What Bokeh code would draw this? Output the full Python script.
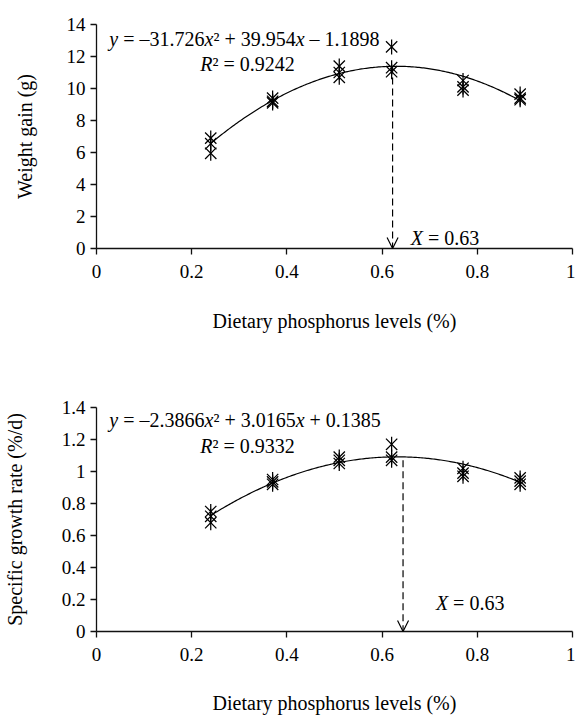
import numpy as np
from bokeh.plotting import figure
from bokeh.layouts import column
from bokeh.models import Label, Arrow, OpenHead, FixedTicker, Range1d
from bokeh.embed import file_html
from bokeh.resources import INLINE

# ---------------- data ----------------
levels = [0.24, 0.37, 0.51, 0.62, 0.77, 0.89]

wg_rep1 = [6.9, 9.4, 11.4, 12.6, 10.5, 9.65]
wg_rep2 = [6.55, 9.2, 11.0, 11.3, 10.1, 9.4]
wg_rep3 = [5.95, 9.1, 10.7, 11.05, 9.9, 9.3]

sgr_rep1 = [0.75, 0.95, 1.09, 1.17, 1.02, 0.96]
sgr_rep2 = [0.72, 0.935, 1.07, 1.09, 0.99, 0.94]
sgr_rep3 = [0.68, 0.92, 1.05, 1.07, 0.97, 0.92]

wg_coef = [-31.726, 39.954, -1.1898]
wg_r2 = "0.9242"
sgr_coef = [-2.3866, 3.0165, 0.1385]
sgr_r2 = "0.9332"
optimum_text = "0.63"

wg_arrow_x = 0.622
wg_arrow_top = 11.38
sgr_arrow_x = 0.644
sgr_arrow_top = 1.07

x_ticks = [0, 0.2, 0.4, 0.6, 0.8, 1.0]
x_tick_labels = ["0", "0.2", "0.4", "0.6", "0.8", "1"]
wg_ticks = [0, 2, 4, 6, 8, 10, 12, 14]
wg_tick_labels = ["0", "2", "4", "6", "8", "10", "12", "14"]
sgr_ticks = [0, 0.2, 0.4, 0.6, 0.8, 1.0, 1.2, 1.4]
sgr_tick_labels = ["0", "0.2", "0.4", "0.6", "0.8", "1", "1.2", "1.4"]

x_title = "Dietary phosphorus levels (%)"
wg_title = "Weight gain (g)"
sgr_title = "Specific growth rate (%/d)"

FONT = "Liberation Serif"
INK = "#111111"
NB = "\u00a0"

# Times / Liberation Serif advance widths (per 1000 em)
TW = {' ': 250, NB: 250, '.': 250, '=': 564, '+': 564, '\u2013': 500, '\u00b2': 300}
for d in "0123456789":
    TW[d] = 500
TWI = {'x': 444, 'y': 444, 'R': 611, 'X': 611}


def text_width(s, italic, size):
    tbl = TWI if italic else TW
    return sum(tbl.get(ch, 500) for ch in s) * size / 1000.0


def add_rich(p, x, y, pieces, size):
    off = 0.0
    for txt, it in pieces:
        txt = txt.replace(" ", NB)
        p.add_layout(Label(x=x, y=y, x_offset=off, text=txt,
                           text_font=FONT, text_font_size=f"{size}px",
                           text_font_style="italic" if it else "normal",
                           text_baseline="alphabetic", text_align="left",
                           text_color="black"))
        off += text_width(txt, it, size)


def eq_pieces(coef):
    a, b, c = coef
    sa = "\u2013" if a < 0 else ""
    sb = "\u2013" if b < 0 else "+"
    sc = "\u2013" if c < 0 else "+"
    return [("y", True), (f" = {sa}{abs(a)}", False), ("x", True), ("\u00b2", False),
            (f" {sb} {abs(b)}", False), ("x", True), (f" {sc} {abs(c)}", False)]


def make_fig(height, b_top, b_bottom, ymax, yticks, ylabels, ytitle, x_standoff, y_standoff):
    p = figure(width=575, height=height, x_range=Range1d(0, 1), y_range=Range1d(0, ymax),
               output_backend="svg", toolbar_location=None,
               min_border_left=96, min_border_right=3,
               min_border_top=b_top, min_border_bottom=b_bottom)
    p.outline_line_color = None
    p.grid.visible = False
    p.background_fill_color = "white"
    p.border_fill_color = "white"
    p.xaxis.ticker = FixedTicker(ticks=x_ticks)
    p.xaxis.major_label_overrides = {t: l for t, l in zip(x_ticks, x_tick_labels)}
    p.yaxis.ticker = FixedTicker(ticks=yticks)
    p.yaxis.major_label_overrides = {t: l for t, l in zip(yticks, ylabels)}
    for ax in (p.xaxis[0], p.yaxis[0]):
        ax.axis_line_color = INK
        ax.axis_line_width = 1.3
        ax.major_tick_line_color = INK
        ax.major_tick_line_width = 1.3
        ax.major_tick_in = 0
        ax.major_tick_out = 6
        ax.minor_tick_line_color = None
        ax.major_label_text_font = FONT
        ax.major_label_text_font_size = "19px"
        ax.major_label_text_color = "black"
        ax.axis_label_text_font = FONT
        ax.axis_label_text_font_size = "20px"
        ax.axis_label_text_font_style = "normal"
        ax.axis_label_text_color = "black"
    p.xaxis.axis_label = x_title
    p.xaxis.major_label_standoff = 10
    p.xaxis.axis_label_standoff = x_standoff
    p.yaxis.axis_label = ytitle
    p.yaxis.major_label_standoff = 5
    p.yaxis.axis_label_standoff = y_standoff
    return p


def draw_series(p, reps, coef):
    xs = np.linspace(levels[0], levels[-1], 200)
    ys = np.polyval(coef, xs)
    p.line(xs, ys, line_color="black", line_width=1.2)
    for r in reps:
        p.scatter(levels, r, marker="x", size=16, line_color="black", line_width=1.25)
        p.scatter(levels, r, marker="dash", angle=np.pi / 2, size=15,
                  line_color="black", line_width=1.25)


# ---------------- top: weight gain ----------------
p1 = make_fig(336, 24, 88, 14, wg_ticks, wg_tick_labels, wg_title, 29, 28)
draw_series(p1, [wg_rep1, wg_rep2, wg_rep3], wg_coef)
p1.add_layout(Arrow(end=OpenHead(size=11, line_width=1.2, line_color="black"),
                    x_start=wg_arrow_x, y_start=wg_arrow_top, x_end=wg_arrow_x, y_end=0,
                    line_color="black", line_width=1.2, line_dash="7 4"))
add_rich(p1, 0.027, 13.12, eq_pieces(wg_coef), 20)
add_rich(p1, 0.218, 11.56, [("R", True), ("\u00b2 = " + wg_r2, False)], 20)
add_rich(p1, 0.66, 0.65, [("X", True), (" = " + optimum_text, False)], 20)

# ---------------- bottom: specific growth rate ----------------
p2 = make_fig(380, 71, 85, 1.4, sgr_ticks, sgr_tick_labels, sgr_title, 28, 33)
draw_series(p2, [sgr_rep1, sgr_rep2, sgr_rep3], sgr_coef)
p2.add_layout(Arrow(end=OpenHead(size=11, line_width=1.2, line_color="black"),
                    x_start=sgr_arrow_x, y_start=sgr_arrow_top, x_end=sgr_arrow_x, y_end=0,
                    line_color="black", line_width=1.2, line_dash="7 4"))
add_rich(p2, 0.027, 1.325, eq_pieces(sgr_coef), 20)
add_rich(p2, 0.218, 1.1625, [("R", True), ("\u00b2 = " + sgr_r2, False)], 20)
add_rich(p2, 0.713, 0.18, [("X", True), (" = " + optimum_text, False)], 20)

layout = column(p1, p2)
open("out.html", "w").write(file_html(layout, INLINE))
